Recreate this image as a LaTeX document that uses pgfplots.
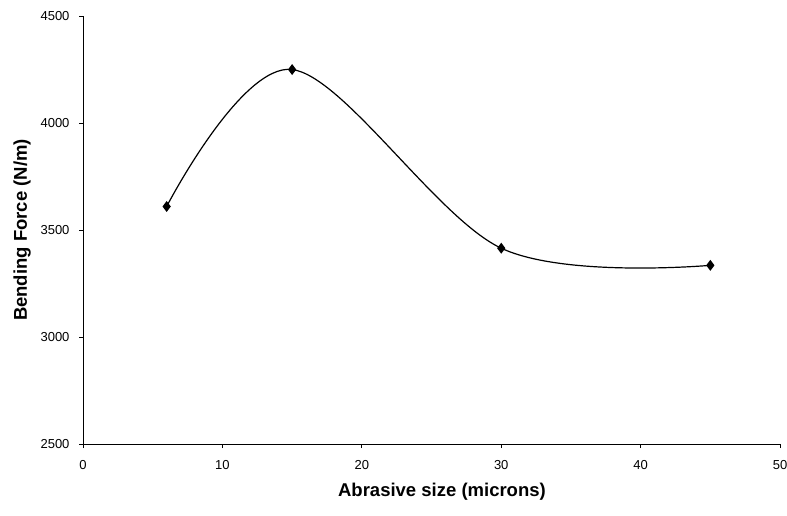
\documentclass[border=0pt]{standalone}
\usepackage{pgfplots}
\pgfplotsset{compat=1.18}
\usepackage{fontspec}
\setmainfont{Liberation Sans}
\begin{document}
\begin{tikzpicture}
    \begin{axis}[
            scale only axis,
            width=697pt,
            height=428pt,
            xmin=0, xmax=50,
            ymin=2500, ymax=4500,
            xtick={0,10,...,50},
            ytick={2500,3000,...,4500},
            axis x line*=bottom,
            axis y line*=left,
            axis line style={line width=0.9pt},
            tick align=outside,
            major tick length=4pt,
            tick style={black, line width=0.8pt},
            /pgf/number format/assume math mode=true,
            /pgf/number format/1000 sep={},
            ticklabel style={font=\fontsize{13}{15}\selectfont},
            xticklabel style={yshift=-9pt},
            yticklabel style={xshift=-6pt},
            xlabel={\textbf{Abrasive size (microns)}},
            ylabel={\textbf{Bending Force (N/m)}},
            label style={font=\fontsize{18.5}{21}\selectfont},
            xlabel style={at={(axis description cs:0.515,-0.112)}, anchor=center},
            ylabel style={at={(axis description cs:-0.0875,0.5)}, anchor=center},
        ]
        \addplot [black, line width=1.2pt, smooth, tension=0.55,
                  mark=diamond*, mark size=4.5pt, mark options={fill=black}]
            coordinates {
                (6,3610)
                (15,4250)
                (30,3415)
                (45,3335)
            };
        \coordinate (bl) at (rel axis cs:-0.1191,-0.1659);
        \coordinate (tr) at (rel axis cs:1.0100,1.0374);
    \end{axis}
    \pgfresetboundingbox
    \useasboundingbox (bl) rectangle (tr);
\end{tikzpicture}
\end{document}
